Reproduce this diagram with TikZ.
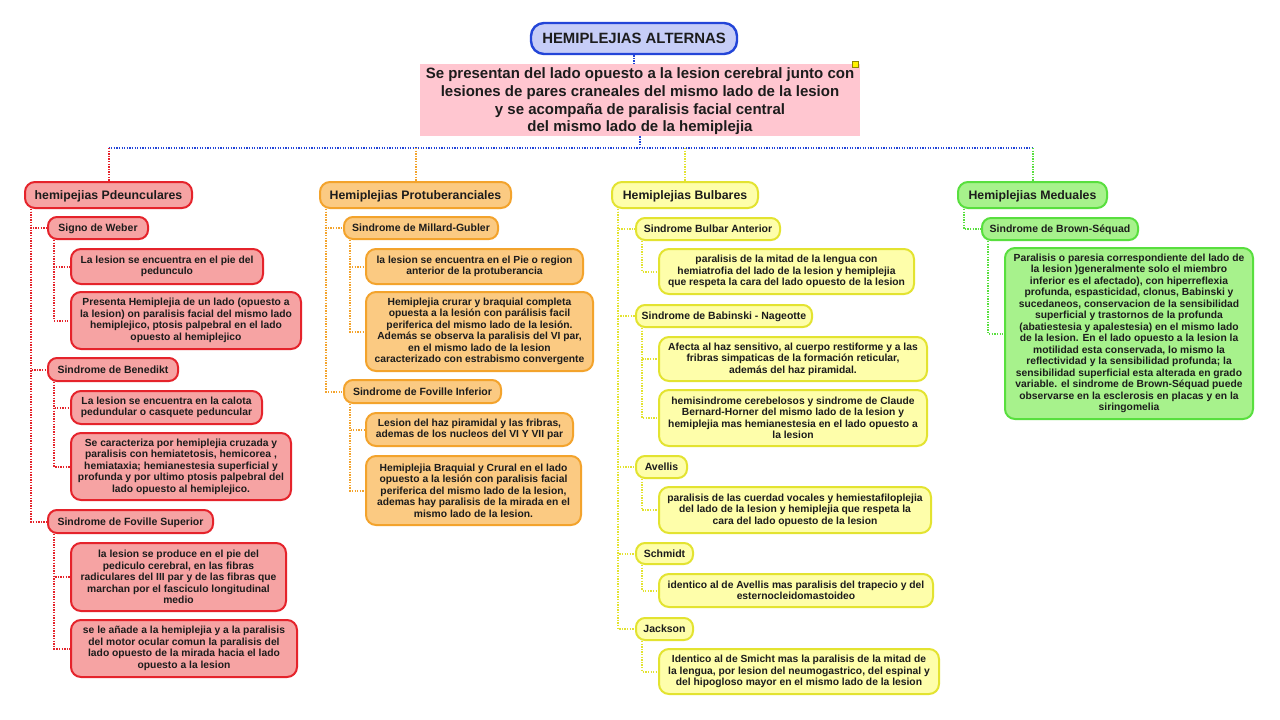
\documentclass[tikz,border=0pt]{standalone}
\usepackage{fontspec}
\setmainfont{Liberation Sans}
\definecolor{bluefill}{HTML}{C6CDF7}
\definecolor{blueline}{HTML}{2345D8}
\definecolor{pinkfill}{HTML}{FFC6D0}
\definecolor{redfill}{HTML}{F6A3A3}
\definecolor{redline}{HTML}{E5232B}
\definecolor{orafill}{HTML}{FBCA82}
\definecolor{oraline}{HTML}{F3A32C}
\definecolor{yelfill}{HTML}{FEFEAA}
\definecolor{yelline}{HTML}{E3E330}
\definecolor{grnfill}{HTML}{A7F28C}
\definecolor{grnline}{HTML}{58DF3E}
\definecolor{inktext}{HTML}{1C1C1C}

\begin{document}
\begin{tikzpicture}[x=1pt,y=-1pt,
    top/.style={draw=blueline, fill=bluefill, line width=2.4pt, rounded corners=13pt,
        font=\fontsize{14.9}{17}\selectfont\bfseries, text=inktext, text depth=0pt},
    cat/.style={draw=#1line, fill=#1fill, line width=2pt, rounded corners=10pt,
        font=\fontsize{12.3}{14}\selectfont\bfseries, text=inktext, text depth=0pt},
    sub/.style={draw=#1line, fill=#1fill, line width=2pt, rounded corners=9pt,
        font=\fontsize{10.5}{12}\selectfont\bfseries, text=inktext, text depth=0pt},
    txt/.style={draw=#1line, fill=#1fill, line width=2pt, rounded corners=10pt,
        align=center, font=\fontsize{10.3}{11.5}\selectfont\bfseries, text=inktext},
    link/.style={draw=#1, line width=2pt, dash pattern=on 1.3pt off 1.3pt},
  ]
    % Page
    \fill[white] (0,0) rectangle (1280,720);
    \useasboundingbox (0,0) rectangle (1280,720);

    % Title and description
    \node[top, minimum width=206, minimum height=31] (title) at (634,38.5) {HEMIPLEJIAS ALTERNAS};
    \node[fill=pinkfill, align=center, minimum width=440, minimum height=72, text depth=0pt,
        font=\fontsize{15}{17.7}\selectfont\bfseries, text=inktext] (desc) at (640,100)
        {Se presentan del lado opuesto a la lesion cerebral junto con\\
         lesiones de pares craneales del mismo lado de la lesion\\
         y se acompaña de paralisis facial central\\
         del mismo lado de la hemiplejia};
    \node[draw=olive, fill=yellow, line width=0.8pt, minimum size=6, inner sep=0] (mark) at (855,64) {};
    \coordinate (bus) at (640,148);

    % Four groups
    \node[cat=red, minimum width=167, minimum height=26] (cat1) at (108.5,195) {hemipejias Pdeunculares};
    \node[cat=ora, minimum width=191, minimum height=26] (cat2) at (415.5,195) {Hemiplejias Protuberanciales};
    \node[cat=yel, minimum width=146, minimum height=26] (cat3) at (685,195) {Hemiplejias Bulbares};
    \node[cat=grn, minimum width=149, minimum height=26] (cat4) at (1032.5,195) {Hemiplejias Meduales};

    % Peduncular group
    \node[sub=red, minimum width=100, minimum height=22] (weber) at (98,228) {Signo de Weber};
    \node[txt=red, minimum width=192, minimum height=35] (we1) at (167,266.5)
        {La lesion se encuentra en el pie del\\pedunculo};
    \node[txt=red, minimum width=230, minimum height=57] (we2) at (186,320.5)
        {Presenta Hemiplejia de un lado (opuesto a\\la lesion) on paralisis facial del mismo lado\\
         hemiplejico, ptosis palpebral en el lado\\opuesto al hemiplejico};
    \node[sub=red, minimum width=130, minimum height=23] (bened) at (113,369.5) {Sindrome de Benedikt};
    \node[txt=red, minimum width=191, minimum height=33] (be1) at (166.5,407.5)
        {La lesion se encuentra en la calota\\pedundular o casquete peduncular};
    \node[txt=red, minimum width=220, minimum height=67] (be2) at (181,466.5)
        {Se caracteriza por hemiplejia cruzada y\\paralisis con hemiatetosis, hemicorea ,\\
         hemiataxia; hemianestesia superficial y\\profunda y por ultimo ptosis palpebral del\\
         lado opuesto al hemiplejico.};
    \node[sub=red, minimum width=165, minimum height=23] (fovsup) at (130.5,521.5) {Sindrome de Foville Superior};
    \node[txt=red, minimum width=215, minimum height=68] (fs1) at (178.5,577)
        {la lesion se produce en el pie del\\pediculo cerebral, en las fibras\\
         radiculares del III par y de las fibras que\\marchan por el fasciculo longitudinal\\medio};
    \node[txt=red, minimum width=226, minimum height=57] (fs2) at (184,648.5)
        {se le añade a la hemiplejia y a la paralisis\\del motor ocular comun la paralisis del\\
         lado opuesto de la mirada hacia el lado\\opuesto a la lesion};

    % Protuberancial group
    \node[sub=ora, minimum width=154, minimum height=22] (millard) at (421,228) {Sindrome de Millard-Gubler};
    \node[txt=ora, minimum width=217, minimum height=35] (mg1) at (474.5,266.5)
        {la lesion se encuentra en el Pie o region\\anterior de la protuberancia};
    \node[txt=ora, minimum width=227, minimum height=79] (mg2) at (479.5,331.5)
        {Hemiplejia crurar y braquial completa\\opuesta a la lesión con parálisis facil\\
         periferica del mismo lado de la lesión.\\Además se observa la paralisis del VI par,\\
         en el mismo lado de la lesion\\caracterizado con estrabismo convergente};
    \node[sub=ora, minimum width=157, minimum height=23] (fovinf) at (422.5,391.5) {Sindrome de Foville Inferior};
    \node[txt=ora, minimum width=207, minimum height=33] (fi1) at (469.5,429.5)
        {Lesion del haz piramidal y las fribras,\\ademas de los nucleos del VI Y VII par};
    \node[txt=ora, minimum width=215, minimum height=69] (fi2) at (473.5,490.5)
        {Hemiplejia Braquial y Crural en el lado\\opuesto a la lesión con paralisis facial\\
         periferica del mismo lado de la lesion,\\ademas hay paralisis de la mirada en el\\
         mismo lado de la lesion.};

    % Bulbar group
    \node[sub=yel, minimum width=144, minimum height=22] (bulbant) at (708,229) {Sindrome Bulbar Anterior};
    \node[txt=yel, minimum width=255, minimum height=45] (ba1) at (786.5,271.5)
        {paralisis de la mitad de la lengua con\\hemiatrofia del lado de la lesion y hemiplejia\\
         que respeta la cara del lado opuesto de la lesion};
    \node[sub=yel, minimum width=176, minimum height=22] (babin) at (724,316) {Sindrome de Babinski - Nageotte};
    \node[txt=yel, minimum width=268, minimum height=44] (bn1) at (793,359)
        {Afecta al haz sensitivo, al cuerpo restiforme y a las\\fribras simpaticas de la formación reticular,\\
         además del haz piramidal.};
    \node[txt=yel, minimum width=268, minimum height=56] (bn2) at (793,418)
        {hemisindrome cerebelosos y sindrome de Claude\\Bernard-Horner del mismo lado de la lesion y\\
         hemiplejia mas hemianestesia en el lado opuesto a\\la lesion};
    \node[sub=yel, minimum width=51, minimum height=22] (avellis) at (661.5,467) {Avellis};
    \node[txt=yel, minimum width=272, minimum height=46] (av1) at (795,510)
        {paralisis de las cuerdad vocales y hemiestafiloplejia\\del lado de la lesion y hemiplejia que respeta la\\
         cara del lado opuesto de la lesion};
    \node[sub=yel, minimum width=57, minimum height=21] (schmidt) at (664.5,553.5) {Schmidt};
    \node[txt=yel, minimum width=274, minimum height=33] (sc1) at (796,590.5)
        {identico al de Avellis mas paralisis del trapecio y del\\esternocleidomastoideo};
    \node[sub=yel, minimum width=57, minimum height=22] (jackson) at (664.5,629) {Jackson};
    \node[txt=yel, minimum width=280, minimum height=45] (ja1) at (799,671.5)
        {Identico al de Smicht mas la paralisis de la mitad de\\la lengua, por lesion del neumogastrico, del espinal y\\
         del hipogloso mayor en el mismo lado de la lesion};

    % Medular group
    \node[sub=grn, minimum width=156, minimum height=22] (brown) at (1060,229) {Sindrome de Brown-Séquad};
    \node[txt=grn, minimum width=248, minimum height=171] (bs1) at (1129,333.5)
        {Paralisis o paresia correspondiente del lado de\\la lesion )generalmente solo el miembro\\
         inferior es el afectado), con hiperreflexia\\profunda, espasticidad, clonus, Babinski y\\
         sucedaneos, conservacion de la sensibilidad\\superficial y trastornos de la profunda\\
         (abatiestesia y apalestesia) en el mismo lado\\de la lesion. En el lado opuesto a la lesion la\\
         motilidad esta conservada, lo mismo la\\reflectividad y la sensibilidad profunda; la\\
         sensibilidad superficial esta alterada en grado\\variable. el sindrome de Brown-Séquad puede\\
         observarse en la esclerosis en placas y en la\\siringomelia};

    % Connectors from the top
    \draw[link=blueline] (title.south) -- (title.south |- desc.north);
    \draw[link=blueline] (desc.south) -- (bus);
    \draw[link=blueline] (cat1.north |- bus) -- (cat4.north |- bus);
    \foreach \c/\k in {cat1/redline, cat2/oraline, cat3/yelline, cat4/grnline}
        \draw[link=\k] (\c.north |- bus) -- (\c.north);

    % Connectors inside the groups
    \foreach \a/\b/\k in {cat1/weber/redline, cat1/bened/redline, cat1/fovsup/redline,
                          weber/we1/redline, weber/we2/redline, bened/be1/redline, bened/be2/redline,
                          fovsup/fs1/redline, fovsup/fs2/redline,
                          cat2/millard/oraline, cat2/fovinf/oraline,
                          millard/mg1/oraline, millard/mg2/oraline, fovinf/fi1/oraline, fovinf/fi2/oraline,
                          cat3/bulbant/yelline, cat3/babin/yelline, cat3/avellis/yelline,
                          cat3/schmidt/yelline, cat3/jackson/yelline,
                          bulbant/ba1/yelline, babin/bn1/yelline, babin/bn2/yelline,
                          avellis/av1/yelline, schmidt/sc1/yelline, jackson/ja1/yelline,
                          cat4/brown/grnline, brown/bs1/grnline}
        \draw[link=\k] ([xshift=7pt]\a.south west) |- (\b.west);
\end{tikzpicture}
\end{document}
